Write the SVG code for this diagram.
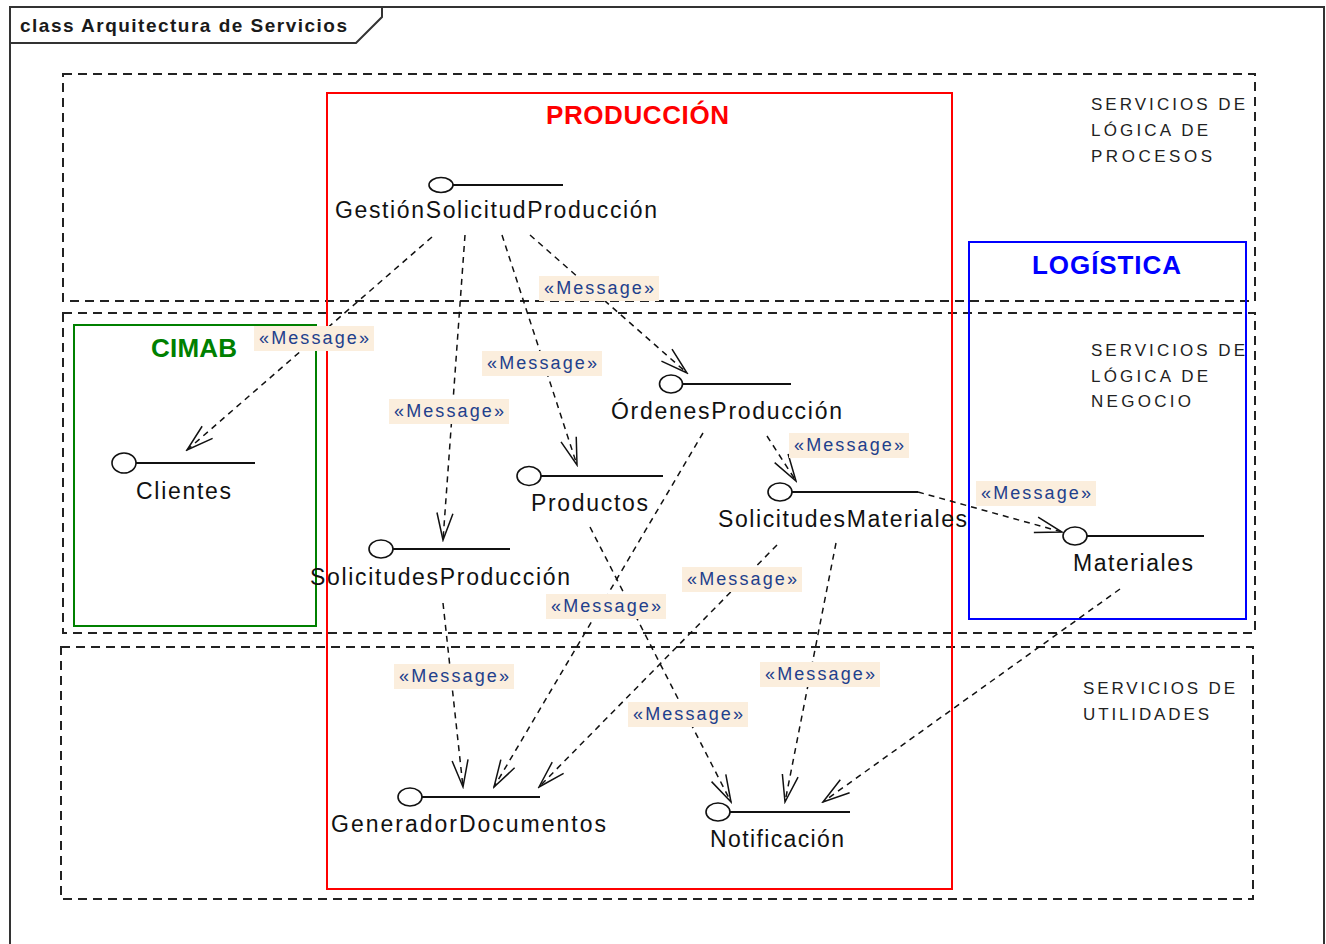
<svg xmlns="http://www.w3.org/2000/svg" width="1326" height="944" viewBox="0 0 1326 944">
  <style>
    .frame { fill: none; stroke: #333; stroke-width: 2; }
    .layer { fill: none; stroke: #222; stroke-width: 2; stroke-dasharray: 9 6; }
    .layer-text { font-family: "Liberation Sans", Arial, sans-serif; font-size: 17px; fill: #222; }
    .pkg { fill: none; stroke-width: 2; }
    .pkg-title { font-family: "Liberation Sans", Arial, sans-serif; font-size: 26px; font-weight: bold; }
    .iface-circle { fill: #fff; stroke: #111; stroke-width: 1.6; }
    .iface-line { stroke: #111; stroke-width: 2; }
    .iface-label { font-family: "Liberation Sans", Arial, sans-serif; font-size: 23px; fill: #111; }
    .conn { fill: none; stroke: #111; stroke-width: 1.5; stroke-dasharray: 6 5; marker-end: url(#open-arrow); }
    .msg-bg { fill: #fbeedd; }
    .msg-text { font-family: "Liberation Sans", Arial, sans-serif; font-size: 18px; fill: #22408c; }
    .header { font-family: "Liberation Sans", Arial, sans-serif; font-size: 19px; font-weight: bold; fill: #1a1a1a; }
  </style>
  <defs>
    <marker id="open-arrow" viewBox="-30 -10 32 20" markerWidth="32" markerHeight="20" refX="0" refY="0" orient="auto" markerUnits="userSpaceOnUse">
      <path d="M-27,-8 L0,0 L-27,8" fill="none" stroke="#111" stroke-width="1.5"/>
    </marker>
  </defs>

  <rect width="1326" height="944" fill="#fff"/>

  <!-- diagram frame and name tab -->
  <g id="frame">
    <rect class="frame" x="10" y="7" width="1314" height="960"/>
    <path class="frame" d="M10,43 H356 L382,17 V7"/>
    <text class="header" x="20" y="32" textLength="327" lengthAdjust="spacing">class Arquitectura de Servicios</text>
  </g>

  <!-- service layers -->
  <g id="layer-procesos">
    <rect class="layer" x="63" y="74" width="1192" height="227"/>
    <text class="layer-text" x="1091" y="110" textLength="154" lengthAdjust="spacing">SERVICIOS DE</text>
    <text class="layer-text" x="1091" y="136" textLength="117" lengthAdjust="spacing">LÓGICA DE</text>
    <text class="layer-text" x="1091" y="162" textLength="121" lengthAdjust="spacing">PROCESOS</text>
  </g>
  <g id="layer-negocio">
    <rect class="layer" x="63" y="313" width="1192" height="320"/>
    <text class="layer-text" x="1091" y="356" textLength="154" lengthAdjust="spacing">SERVICIOS DE</text>
    <text class="layer-text" x="1091" y="382" textLength="117" lengthAdjust="spacing">LÓGICA DE</text>
    <text class="layer-text" x="1091" y="407" textLength="100" lengthAdjust="spacing">NEGOCIO</text>
  </g>
  <g id="layer-utilidades">
    <rect class="layer" x="61" y="647" width="1192" height="252"/>
    <text class="layer-text" x="1083" y="694" textLength="152" lengthAdjust="spacing">SERVICIOS DE</text>
    <text class="layer-text" x="1083" y="720" textLength="126" lengthAdjust="spacing">UTILIDADES</text>
  </g>

  <!-- packages -->
  <g id="pkg-produccion">
    <rect class="pkg" x="327" y="93" width="625" height="796" stroke="#ff0000"/>
    <text class="pkg-title" x="546" y="124" fill="#ff0000" textLength="183" lengthAdjust="spacing">PRODUCCIÓN</text>
  </g>
  <g id="pkg-logistica">
    <rect class="pkg" x="969" y="242" width="277" height="377" stroke="#0000ff"/>
    <text class="pkg-title" x="1032" y="274" fill="#0000ff" textLength="149" lengthAdjust="spacing">LOGÍSTICA</text>
  </g>
  <g id="pkg-cimab">
    <rect class="pkg" x="74" y="325" width="242" height="301" stroke="#008000"/>
    <text class="pkg-title" x="151" y="357" fill="#008000" textLength="86" lengthAdjust="spacing">CIMAB</text>
  </g>

  <!-- interfaces -->
  <g id="GestionSolicitudProduccion">
    <line class="iface-line" x1="452" y1="185" x2="563" y2="185"/>
    <ellipse class="iface-circle" cx="441" cy="185" rx="12" ry="7.5"/>
    <text class="iface-label" x="335" y="218" textLength="322" lengthAdjust="spacing">GestiónSolicitudProducción</text>
  </g>
  <g id="OrdenesProduccion">
    <line class="iface-line" x1="682" y1="384" x2="791" y2="384"/>
    <ellipse class="iface-circle" cx="671" cy="384" rx="11.5" ry="9"/>
    <text class="iface-label" x="611" y="419" textLength="231" lengthAdjust="spacing">ÓrdenesProducción</text>
  </g>
  <g id="Clientes">
    <line class="iface-line" x1="136" y1="463" x2="255" y2="463"/>
    <ellipse class="iface-circle" cx="124" cy="463" rx="12" ry="10"/>
    <text class="iface-label" x="136" y="499" textLength="95" lengthAdjust="spacing">Clientes</text>
  </g>
  <g id="Productos">
    <line class="iface-line" x1="541" y1="476" x2="663" y2="476"/>
    <ellipse class="iface-circle" cx="529" cy="476" rx="12" ry="9.5"/>
    <text class="iface-label" x="531" y="511" textLength="117" lengthAdjust="spacing">Productos</text>
  </g>
  <g id="SolicitudesMateriales">
    <line class="iface-line" x1="792" y1="492" x2="918" y2="492"/>
    <ellipse class="iface-circle" cx="780" cy="492" rx="12" ry="9"/>
    <text class="iface-label" x="718" y="527" textLength="249" lengthAdjust="spacing">SolicitudesMateriales</text>
  </g>
  <g id="SolicitudesProduccion">
    <line class="iface-line" x1="393" y1="549" x2="510" y2="549"/>
    <ellipse class="iface-circle" cx="381" cy="549" rx="12" ry="9"/>
    <text class="iface-label" x="310" y="585" textLength="260" lengthAdjust="spacing">SolicitudesProducción</text>
  </g>
  <g id="Materiales">
    <line class="iface-line" x1="1087" y1="536" x2="1204" y2="536"/>
    <ellipse class="iface-circle" cx="1075" cy="536" rx="12" ry="9"/>
    <text class="iface-label" x="1073" y="571" textLength="120" lengthAdjust="spacing">Materiales</text>
  </g>
  <g id="GeneradorDocumentos">
    <line class="iface-line" x1="422" y1="797" x2="540" y2="797"/>
    <ellipse class="iface-circle" cx="410" cy="797" rx="12" ry="9"/>
    <text class="iface-label" x="331" y="832" textLength="275" lengthAdjust="spacing">GeneradorDocumentos</text>
  </g>
  <g id="Notificacion">
    <line class="iface-line" x1="730" y1="812" x2="850" y2="812"/>
    <ellipse class="iface-circle" cx="718" cy="812" rx="12" ry="9"/>
    <text class="iface-label" x="710" y="847" textLength="134" lengthAdjust="spacing">Notificación</text>
  </g>

  <!-- message dependencies -->
  <g id="connectors">
    <path class="conn" d="M432,237 L187,450"/>
    <path class="conn" d="M465,235 L443,540"/>
    <path class="conn" d="M502,235 L577,465"/>
    <path class="conn" d="M530,235 L687,373"/>
    <path class="conn" d="M767,436 L796,481"/>
    <path class="conn" d="M703,433 L494,787"/>
    <path class="conn" d="M918,492 L1062,532"/>
    <path class="conn" d="M777,545 L539,787"/>
    <path class="conn" d="M836,543 L785,802"/>
    <path class="conn" d="M590,527 L731,802"/>
    <path class="conn" d="M443,603 L463,787"/>
    <path class="conn" d="M1120,589 L823,802"/>
  </g>

  <!-- stereotype labels on the dependencies -->
  <g id="message-labels">
    <rect class="msg-bg" x="254" y="326" width="120" height="25"/>
    <text class="msg-text" x="259" y="344" textLength="110" lengthAdjust="spacing">«Message»</text>
    <rect class="msg-bg" x="539" y="276" width="120" height="25"/>
    <text class="msg-text" x="544" y="294" textLength="110" lengthAdjust="spacing">«Message»</text>
    <rect class="msg-bg" x="482" y="351" width="120" height="25"/>
    <text class="msg-text" x="487" y="369" textLength="110" lengthAdjust="spacing">«Message»</text>
    <rect class="msg-bg" x="389" y="399" width="120" height="25"/>
    <text class="msg-text" x="394" y="417" textLength="110" lengthAdjust="spacing">«Message»</text>
    <rect class="msg-bg" x="789" y="433" width="120" height="25"/>
    <text class="msg-text" x="794" y="451" textLength="110" lengthAdjust="spacing">«Message»</text>
    <rect class="msg-bg" x="976" y="481" width="120" height="25"/>
    <text class="msg-text" x="981" y="499" textLength="110" lengthAdjust="spacing">«Message»</text>
    <rect class="msg-bg" x="682" y="567" width="120" height="25"/>
    <text class="msg-text" x="687" y="585" textLength="110" lengthAdjust="spacing">«Message»</text>
    <rect class="msg-bg" x="546" y="594" width="120" height="25"/>
    <text class="msg-text" x="551" y="612" textLength="110" lengthAdjust="spacing">«Message»</text>
    <rect class="msg-bg" x="394" y="664" width="120" height="25"/>
    <text class="msg-text" x="399" y="682" textLength="110" lengthAdjust="spacing">«Message»</text>
    <rect class="msg-bg" x="760" y="662" width="120" height="25"/>
    <text class="msg-text" x="765" y="680" textLength="110" lengthAdjust="spacing">«Message»</text>
    <rect class="msg-bg" x="628" y="702" width="120" height="25"/>
    <text class="msg-text" x="633" y="720" textLength="110" lengthAdjust="spacing">«Message»</text>
  </g>
</svg>
